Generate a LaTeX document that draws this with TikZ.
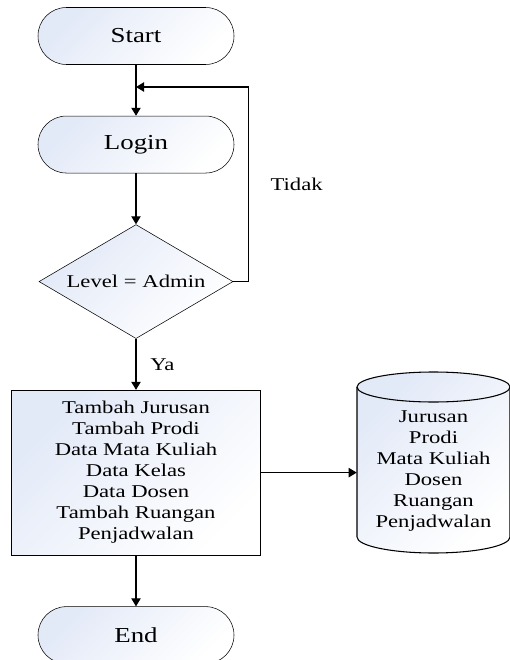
\documentclass[tikz,border=0pt]{standalone}
\usepackage{fontspec}
\setmainfont{Liberation Serif}[FakeStretch=1.26]
\definecolor{flowfill}{RGB}{226,233,247}
\usepackage{tikz}
\usetikzlibrary{positioning, arrows.meta, shapes.geometric}

\begin{document}
\begin{tikzpicture}[
      x=0.75pt, y=-0.75pt,
      node distance = 38.25pt and 10pt,
      every node/.style = {font=\fontsize{13.5}{15.75}\selectfont},
      shade/.style = {shading=axis, top color=flowfill, bottom color=white, shading angle=45},
      terminal/.style = {draw, shade, rounded corners=21.3pt, minimum width=147pt,
                         minimum height=42.75pt, font=\fontsize{16}{19}\selectfont},
      decision/.style = {draw, shade, diamond, aspect=1.7, inner sep=0pt, minimum width=145.5pt,
                         minimum height=85.5pt},
      process/.style = {draw, shade, minimum width=186.75pt, minimum height=123.75pt,
                        align=center},
      storetext/.style = {minimum width=114.75pt, align=center, inner sep=0pt},
      arr/.style = {-{Triangle[length=6pt, width=7pt]}, line width=0.8pt}
    ]
    \useasboundingbox (0,0) rectangle (510,660);
    \node[terminal] (start) at (136,36) {Start};
    \node[terminal, below=of start] (login) {Login};
    \node[decision, below=of login] (dec) {Level = Admin};
    \node[process, below=of dec] (proc) {Tambah Jurusan\\Tambah Prodi\\Data Mata Kuliah\\Data Kelas\\Data Dosen\\Tambah Ruangan\\Penjadwalan};
    \node[terminal, below=of proc] (end) {End};
    % database
    \path[shade] (357,387) -- (357,537) arc[start angle=180, end angle=360, x radius=57.375pt, y radius=12pt]
      -- (510,387) arc[start angle=0, end angle=180, x radius=57.375pt, y radius=11.25pt] -- cycle;
    \draw[line width=0.8pt] (357,387) -- (357,537) arc[start angle=180, end angle=360, x radius=57.375pt, y radius=12pt] -- (510,387);
    \draw[line width=0.8pt] (433.5,387) ellipse[x radius=57.375pt, y radius=11.25pt];
    \node[storetext] (store) at (433.5,471) {Jurusan\\Prodi\\Mata Kuliah\\Dosen\\Ruangan\\Penjadwalan};
    \coordinate (loopin) at (136,87);
    \draw[arr] (start) -- (login);
    \draw[arr] (login) -- (dec);
    \draw[arr] (dec.east) -- ++(15,0) |- node[pos=0.25, right=13pt] {Tidak} (loopin);
    \draw[arr] (dec) -- node[right=7pt] {Ya} (proc);
    \draw[arr] (proc.east) -- (proc.east -| store.west);
    \draw[arr] (proc) -- (end);
  \end{tikzpicture}
\end{document}
